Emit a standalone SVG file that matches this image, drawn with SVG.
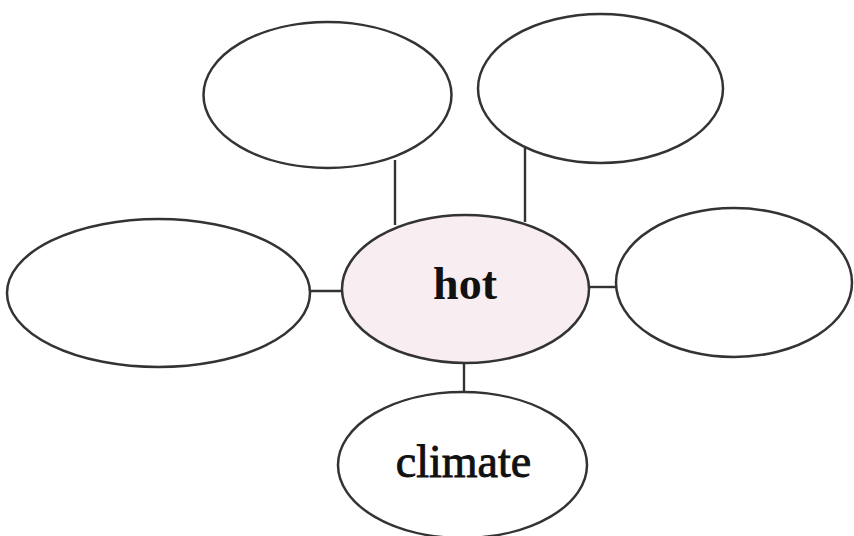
<svg xmlns="http://www.w3.org/2000/svg" width="854" height="536" viewBox="0 0 854 536">
  <style>
    .node { fill: #ffffff; stroke: #333333; stroke-width: 2.5; }
    .center { fill: #f8eef1; }
    .link { stroke: #333333; stroke-width: 2.4; fill: none; }
    .label { font-family: "Liberation Serif", "Times New Roman", serif; font-size: 46px; fill: #111111; text-anchor: middle; }
  </style>
  <rect width="854" height="536" fill="#ffffff"/>
  <g id="connectors">
    <line class="link" x1="395" y1="160" x2="395" y2="225"/>
    <line class="link" x1="525" y1="147" x2="525" y2="222"/>
    <line class="link" x1="309" y1="291" x2="343" y2="291"/>
    <line class="link" x1="588" y1="287" x2="617" y2="287"/>
    <line class="link" x1="464" y1="362" x2="464" y2="393"/>
  </g>
  <g id="node-top-left">
    <ellipse class="node" cx="327.5" cy="95" rx="124" ry="73"/>
  </g>
  <g id="node-top-right">
    <ellipse class="node" cx="600.5" cy="88.5" rx="122.5" ry="74.5"/>
  </g>
  <g id="node-left">
    <ellipse class="node" cx="158.5" cy="293" rx="151.5" ry="74"/>
  </g>
  <g id="node-right">
    <ellipse class="node" cx="734" cy="282.5" rx="118" ry="74.5"/>
  </g>
  <g id="node-hot">
    <ellipse class="node center" cx="465.5" cy="289" rx="123.5" ry="74"/>
    <text class="label" x="465" y="299" font-weight="bold">hot</text>
  </g>
  <g id="node-climate">
    <ellipse class="node" cx="462.5" cy="465" rx="124.5" ry="73"/>
    <text class="label" x="463.5" y="477" stroke="#111111" stroke-width="0.9">climate</text>
  </g>
</svg>
